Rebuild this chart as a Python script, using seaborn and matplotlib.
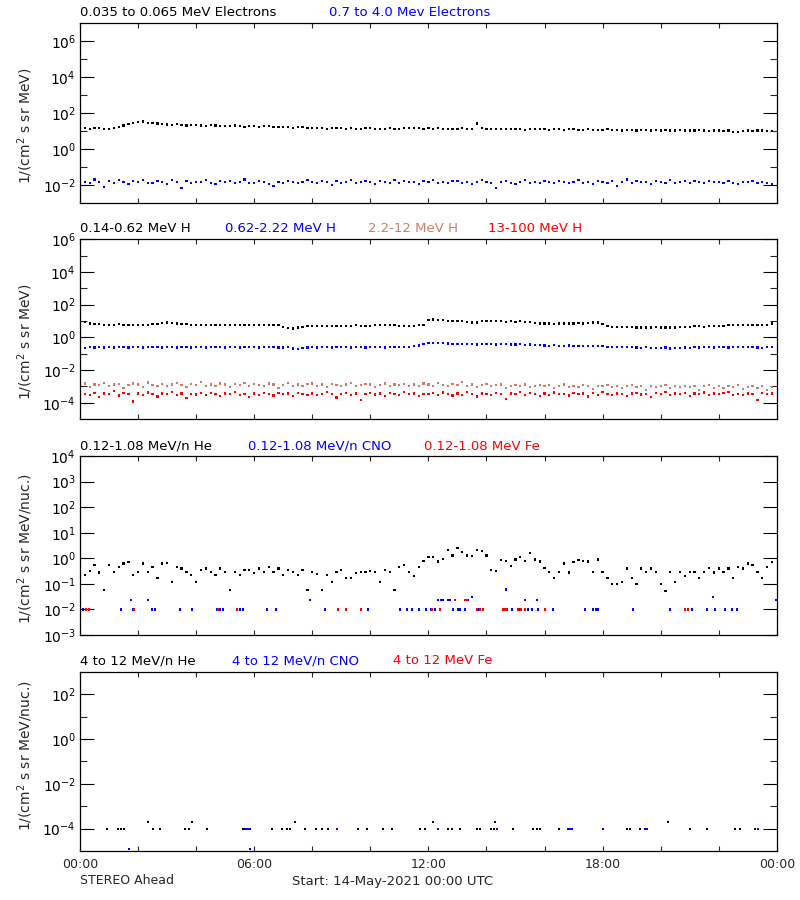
import numpy as np
import pandas as pd
import matplotlib
matplotlib.use('Agg')
import matplotlib.pyplot as plt
import seaborn as sns
from matplotlib.ticker import FixedLocator, NullFormatter

sns.set_theme(style='white')
plt.rcParams['font.family'] = ['DejaVu Sans']
plt.rcParams['mathtext.default'] = 'regular'

# --- data (10 min cadence, 14-May-2021) ---
# panel 1 : electrons
e_low = [17, 15, 14, 16, 15, 14,
         14, 15, 17, 21, 26, 30,
         33, 35, 30, 29, 27, 25,
         24, 23, 25, 22, 21, 23,
         22, 21, 20, 22, 21, 20,
         20, 19, 21, 19, 18, 19,
         19, 18, 19, 20, 18, 17,
         17, 18, 16, 17, 18, 16,
         16, 15, 16, 14, 15, 16,
         15, 14, 15, 14, 14, 15,
         15, 14, 13, 14, 15, 14,
         14, 15, 15, 16, 15, 14,
         15, 14, 15, 14, 13, 14,
         14, 15, 14, 13, 27, 15,
         14, 13, 14, 14, 13, 13,
         13, 14, 12, 13, 13, 14,
         13, 12, 13, 13, 12, 13,
         13, 12, 12, 13, 12, 12,
         12, 13, 12, 12, 11, 12,
         12, 11, 12, 12, 11, 12,
         11, 12, 11, 11, 12, 11,
         11, 11, 12, 11, 10, 11,
         11, 10, 11, 9.5, 9, 10,
         11, 10, 11, 11, 10, 10]
e_high = [0.014, 0.016, 0.013, 0.021, 0.015, 0.008,
          0.017, 0.013, 0.019, 0.016, 0.012, 0.018,
          0.015, 0.020, 0.014, 0.013, 0.017, 0.015,
          0.012, 0.019, 0.016, 0.007, 0.018, 0.013,
          0.016, 0.015, 0.020, 0.014, 0.012, 0.017,
          0.015, 0.018, 0.013, 0.016, 0.021, 0.014,
          0.013, 0.017, 0.015, 0.012, 0.009, 0.016,
          0.014, 0.018, 0.016, 0.013, 0.015, 0.020,
          0.016, 0.013, 0.017, 0.015, 0.010, 0.018,
          0.014, 0.016, 0.019, 0.013, 0.015, 0.017,
          0.016, 0.012, 0.018, 0.015, 0.014, 0.020,
          0.013, 0.017, 0.015, 0.016, 0.012, 0.018,
          0.015, 0.019, 0.014, 0.016, 0.013, 0.017,
          0.018, 0.014, 0.016, 0.012, 0.015, 0.019,
          0.016, 0.013, 0.007, 0.015, 0.017, 0.014,
          0.012, 0.016, 0.019, 0.014, 0.015, 0.013,
          0.017, 0.015, 0.013, 0.018, 0.016, 0.014,
          0.015, 0.019, 0.014, 0.016, 0.012, 0.017,
          0.016, 0.014, 0.018, 0.009, 0.015, 0.021,
          0.013, 0.017, 0.015, 0.016, 0.012, 0.018,
          0.015, 0.014, 0.019, 0.013, 0.016, 0.017,
          0.014, 0.018, 0.015, 0.013, 0.017, 0.015,
          0.016, 0.013, 0.018, 0.014, 0.012, 0.016,
          0.015, 0.017, 0.013, 0.016, 0.014, 0.012]

# panel 2 : protons
h_low = [9, 8.5, 7, 6.5, 6.5, 6,
         6, 6, 6.5, 6, 6, 6,
         6, 6, 6, 6.5, 6.5, 7.5,
         8, 7.5, 7, 6.5, 6.5, 6,
         6, 6, 6, 6, 6, 6,
         6, 5.5, 6, 6, 5.5, 6,
         6, 6, 5.5, 6, 6, 5.5,
         4.5, 3.8, 3.5, 4, 4.5, 5,
         5, 5, 5, 5, 5, 5,
         5, 5, 5, 5.5, 5, 5,
         5, 5.5, 5.5, 5.5, 5.5, 5.5,
         5, 5, 5, 5, 5.5, 6,
         12, 12.5, 12, 11, 10.5, 10,
         10, 9.5, 8.5, 8, 8, 10,
         10.5, 10, 9.5, 9.5, 9, 9.5,
         9, 9.5, 9, 8.5, 7.5, 7,
         7, 7, 6.5, 7, 7, 7,
         7, 7.5, 7, 7.5, 8, 8,
         6.5, 5, 4.5, 4.5, 4.5, 4.5,
         4.5, 4, 4, 4, 4, 4.5,
         4, 4, 4, 4, 4.5, 4.5,
         4.5, 5, 5, 4.5, 5, 5,
         5, 5, 5.5, 5.5, 5.5, 5.5,
         5.5, 5.5, 6, 5.5, 6, 7]
h_mid = [0.24, 0.23, 0.25, 0.24, 0.26, 0.24,
         0.25, 0.24, 0.26, 0.25, 0.24, 0.25,
         0.26, 0.24, 0.25, 0.25, 0.26, 0.24,
         0.25, 0.26, 0.24, 0.25, 0.25, 0.24,
         0.26, 0.25, 0.24, 0.25, 0.26, 0.25,
         0.24, 0.25, 0.26, 0.24, 0.25, 0.26,
         0.25, 0.24, 0.26, 0.25, 0.25, 0.24,
         0.24, 0.25, 0.21, 0.20, 0.23, 0.24,
         0.25, 0.24, 0.26, 0.25, 0.24, 0.25,
         0.26, 0.25, 0.24, 0.25, 0.26, 0.24,
         0.25, 0.26, 0.25, 0.24, 0.26, 0.25,
         0.26, 0.25, 0.27, 0.28, 0.32, 0.38,
         0.43, 0.45, 0.44, 0.43, 0.42, 0.40,
         0.40, 0.39, 0.41, 0.38, 0.37, 0.40,
         0.38, 0.39, 0.37, 0.38, 0.39, 0.37,
         0.36, 0.38, 0.35, 0.36, 0.34, 0.33,
         0.32, 0.31, 0.33, 0.30, 0.31, 0.32,
         0.30, 0.31, 0.29, 0.30, 0.29, 0.28,
         0.28, 0.27, 0.26, 0.27, 0.25, 0.26,
         0.25, 0.24, 0.23, 0.25, 0.22, 0.23,
         0.22, 0.24, 0.21, 0.23, 0.22, 0.24,
         0.23, 0.25, 0.24, 0.26, 0.25, 0.24,
         0.25, 0.26, 0.24, 0.25, 0.27, 0.25,
         0.26, 0.25, 0.24, 0.22, 0.26, 0.27]
h_hi = [0.0011, 0.0015, 0.0009, 0.0013, 0.0012, 0.0016,
        0.0010, 0.0013, 0.0014, 0.0008, 0.0012, 0.0015,
        0.0013, 0.0009, 0.0017, 0.0012, 0.0011, 0.0014,
        0.0010, 0.0013, 0.0016, 0.0012, 0.0009, 0.0014,
        0.0012, 0.0018, 0.0011, 0.0013, 0.0010, 0.0015,
        0.0013, 0.0009, 0.0014, 0.0012, 0.0016, 0.0011,
        0.0014, 0.0012, 0.0010, 0.0015, 0.0013, 0.0008,
        0.0012, 0.0016, 0.0011, 0.0013, 0.0010, 0.0014,
        0.0015, 0.0011, 0.0013, 0.0009, 0.0014, 0.0012,
        0.0010, 0.0013, 0.0016, 0.0011, 0.0012, 0.0014,
        0.0013, 0.0009, 0.0012, 0.0015, 0.0011, 0.0013,
        0.0012, 0.0014, 0.0010, 0.0013, 0.0011, 0.0015,
        0.0013, 0.0011, 0.0016, 0.0012, 0.0010, 0.0014,
        0.0012, 0.0019, 0.0011, 0.0013, 0.0009, 0.0012,
        0.0014, 0.0010, 0.0012, 0.0013, 0.0008, 0.0011,
        0.0012, 0.0010, 0.0013, 0.0009, 0.0011, 0.0012,
        0.0010, 0.0012, 0.0008, 0.0011, 0.0013, 0.0009,
        0.0011, 0.0009, 0.0012, 0.0010, 0.0007, 0.0011,
        0.0010, 0.0012, 0.0009, 0.0011, 0.0008, 0.0010,
        0.0012, 0.0009, 0.0010, 0.0006, 0.0011, 0.0009,
        0.0010, 0.0012, 0.0008, 0.0010, 0.0009, 0.0011,
        0.0009, 0.0011, 0.0006, 0.0010, 0.0012, 0.0008,
        0.0010, 0.0008, 0.0011, 0.0009, 0.0012, 0.0007,
        0.0009, 0.0011, 0.0008, 0.0010, 0.0006, 0.0009]
h_top = [0.00045, 0.00035, 0.00030, 0.00040, 0.00022, 0.00036,
         0.00033, 0.00050, 0.00028, 0.00038, 0.00034, 0.00012,
         0.00036, 0.00030, 0.00042, 0.00033, 0.00024, 0.00037,
         0.00034, 0.00046, 0.00031, 0.00036, 0.00020, 0.00035,
         0.00032, 0.00038, 0.00029, 0.00040, 0.00034, 0.00026,
         0.00037, 0.00033, 0.00045, 0.00030, 0.00035, 0.00023,
         0.00036, 0.00031, 0.00041, 0.00034, 0.00028, 0.00038,
         0.00033, 0.00036, 0.00025, 0.00040, 0.00034, 0.00031,
         0.00037, 0.00029, 0.00035, 0.00043, 0.00033, 0.00021,
         0.00035, 0.00038, 0.00030, 0.00036, 0.00014, 0.00034,
         0.00040, 0.00032, 0.00036, 0.00027, 0.00038, 0.00033,
         0.00031, 0.00046, 0.00034, 0.00036, 0.00025, 0.00035,
         0.00033, 0.00038, 0.00030, 0.00042, 0.00034, 0.00028,
         0.00036, 0.00031, 0.00044, 0.00033, 0.00024, 0.00037,
         0.00035, 0.00030, 0.00040, 0.00034, 0.00016, 0.00036,
         0.00033, 0.00045, 0.00031, 0.00038, 0.00034, 0.00026,
         0.00037, 0.00030, 0.00042, 0.00035, 0.00033, 0.00028,
         0.00040, 0.00034, 0.00036, 0.00024, 0.00038, 0.00031,
         0.00044, 0.00035, 0.00030, 0.00037, 0.00033, 0.00027,
         0.00036, 0.00041, 0.00032, 0.00035, 0.00022, 0.00038,
         0.00034, 0.00045, 0.00030, 0.00036, 0.00033, 0.00040,
         0.00026, 0.00037, 0.00034, 0.00042, 0.00031, 0.00036,
         0.00033, 0.00038, 0.00044, 0.00029, 0.00035, 0.00030,
         0.00037, 0.00034, 0.00015, 0.00041, 0.00033, 0.00036]

# panel 3 : 0.12-1.08 MeV/n ions
he_low = [0.10, 0.22, 0.32, 0.55, 0.28, 0.057,
          0.55, 0.30, 0.45, 0.63, 0.70, 0.22,
          0.30, 0.63, 0.30, 0.45, 0.17, 0.63,
          0.65, 0.12, 0.45, 0.40, 0.30, 0.22,
          0.12, 0.35, 0.40, 0.30, 0.22, 0.40,
          0.30, 0.057, 0.30, 0.22, 0.35, 0.35,
          0.26, 0.40, 0.30, 0.45, 0.30, 0.40,
          0.22, 0.35, 0.30, 0.22, 0.35, 0.057,
          0.30, 0.25, 0.057, 0.22, 0.12, 0.30,
          0.35, 0.17, 0.17, 0.26, 0.30, 0.30,
          0.32, 0.30, 0.12, 0.35, 0.30, 0.057,
          0.45, 0.55, 0.30, 0.20, 0.45, 0.80,
          1.15, 1.10, 0.75, 0.95, 2.10, 1.30,
          2.60, 1.80, 1.30, 1.20, 2.10, 1.90,
          1.30, 0.35, 0.32, 0.86, 0.80, 0.50,
          0.90, 1.15, 0.80, 1.57, 0.90, 0.75,
          0.42, 0.30, 0.17, 0.30, 0.63, 0.28,
          0.70, 0.85, 0.80, 0.75, 0.30, 0.90,
          0.30, 0.17, 0.10, 0.10, 0.12, 0.40,
          0.17, 0.10, 0.40, 0.30, 0.40, 0.30,
          0.10, 0.052, 0.30, 0.12, 0.30, 0.20,
          0.30, 0.30, 0.17, 0.30, 0.42, 0.28,
          0.40, 0.30, 0.40, 0.17, 0.45, 0.40,
          0.63, 0.55, 0.30, 0.17, 0.45, 0.70]
cno_low_t = [0.10, 0.21, 1.41, 1.76, 1.83, 2.34, 2.48, 2.58, 3.44, 3.86, 4.72, 4.82,
             4.92, 5.41, 5.51, 5.61, 6.44, 6.75, 7.92, 8.44, 9.92, 11.02, 11.26,
             11.43, 11.67, 11.91, 12.09, 12.22, 12.33, 12.43, 12.50, 12.67, 12.74,
             12.84, 13.02, 13.09, 13.26, 13.26, 13.36, 13.50, 13.74, 14.67, 14.88,
             15.12, 15.32, 15.43, 15.56, 15.74, 15.77, 16.01, 16.29, 17.39, 17.67,
             17.77, 17.84, 19.04, 20.32, 21.07, 21.59, 21.80, 21.87, 22.21, 22.45,
             22.62, 23.97]
cno_low = [0.01, 0.01, 0.01, 0.023, 0.01, 0.023, 0.01, 0.01, 0.01, 0.01, 0.01, 0.01,
           0.01, 0.01, 0.01, 0.01, 0.01, 0.01, 0.023, 0.01, 0.01, 0.01, 0.01,
           0.01, 0.01, 0.01, 0.01, 0.01, 0.023, 0.023, 0.023, 0.023, 0.023,
           0.01, 0.01, 0.01, 0.01, 0.023, 0.023, 0.03, 0.01, 0.06, 0.01,
           0.01, 0.023, 0.01, 0.01, 0.023, 0.01, 0.01, 0.01, 0.01, 0.01,
           0.01, 0.01, 0.01, 0.01, 0.01, 0.01, 0.03, 0.01, 0.01, 0.01,
           0.01, 0.023]
fe_low_t = [0.21, 0.31, 1.86, 4.75, 5.41, 8.88, 9.16, 9.68, 12.12, 12.40, 12.91,
            13.26, 13.33, 13.67, 13.77, 13.88, 14.57, 14.64, 14.70, 15.08, 15.19,
            15.32, 16.01, 20.83, 20.94]
fe_low = [0.01, 0.01, 0.01, 0.01, 0.01, 0.01, 0.01, 0.01, 0.01, 0.01, 0.023,
          0.023, 0.023, 0.01, 0.01, 0.01, 0.01, 0.01, 0.01, 0.01, 0.01,
          0.01, 0.01, 0.01, 0.01]

# panel 4 : 4-12 MeV/n ions
he_high_t = [0.93, 1.31, 1.41, 1.52, 2.34, 2.51, 2.75, 3.62, 3.75, 3.86, 4.37, 5.61,
             5.85, 6.61, 6.96, 7.13, 7.23, 7.40, 7.75, 8.13, 8.33, 8.54, 9.57, 9.88,
             10.43, 10.74, 11.71, 11.88, 12.16, 12.67, 12.81, 13.09, 13.67, 13.77,
             14.15, 14.26, 14.29, 14.91, 15.60, 15.74, 15.84, 16.49, 18.84, 18.94,
             19.28, 20.25, 21.00, 21.59, 22.56, 22.73, 23.24]
he_high = [1e-4, 1e-4, 1e-4, 1e-4, 2e-4, 1e-4, 1e-4, 1e-4, 1e-4, 2e-4, 1e-4, 1e-4,
           1e-4, 1e-4, 1e-4, 1e-4, 1e-4, 2e-4, 1e-4, 1e-4, 1e-4, 1e-4, 1e-4, 1e-4,
           1e-4, 1e-4, 1e-4, 1e-4, 2e-4, 1e-4, 1e-4, 1e-4, 1e-4, 1e-4,
           1e-4, 1e-4, 2e-4, 1e-4, 1e-4, 1e-4, 1e-4, 1e-4, 1e-4, 1e-4,
           1e-4, 2e-4, 1e-4, 1e-4, 1e-4, 1e-4, 1e-4]
cno_high_t = [1.69, 5.68, 5.75, 5.82, 5.85, 8.85, 12.33, 14.36, 16.80, 16.87, 16.94,
              18.01, 19.46, 19.52, 23.35]
cno_high = [1.25e-5, 1e-4, 1e-4, 1e-4, 1.25e-5, 1e-4, 1e-4, 1e-4, 1e-4, 1e-4, 1e-4,
            1e-4, 1e-4, 1e-4, 1e-4]

time_10min = np.arange(len(e_low)) / 6.0

BLUE = '#0000FF'
RED = '#FF0000'
SIENNA = '#C8806A'


def pow10(e):
    return r'$\mathregular{10^{%d}}$' % e


def style_axis(ax, ylim, major, minor, show_x=False):
    ax.set_yscale('log')
    ax.set_xlim(0, 24)
    ax.set_ylim(*ylim)
    ax.yaxis.set_major_locator(FixedLocator([10.0 ** e for e in major]))
    ax.set_yticklabels([pow10(e) for e in major])
    ax.yaxis.set_minor_locator(FixedLocator([10.0 ** e for e in minor]))
    ax.yaxis.set_minor_formatter(NullFormatter())
    ax.xaxis.set_major_locator(FixedLocator([0, 6, 12, 18, 24]))
    ax.xaxis.set_minor_locator(FixedLocator([2, 4, 8, 10, 14, 16, 20, 22]))
    if show_x:
        ax.set_xticklabels(['00:00', '06:00', '12:00', '18:00', '00:00'])
    else:
        ax.set_xticklabels([])
    ax.tick_params(axis='y', which='major', direction='in', length=10, width=0.8,
                   left=True, right=True, labelsize=10, pad=3, colors='black')
    ax.tick_params(axis='y', which='minor', direction='in', length=5, width=0.8,
                   left=True, right=True)
    ax.tick_params(axis='x', which='both', direction='in', length=3.6, width=0.8,
                   top=True, bottom=True, labelsize=9, pad=5)
    for sp in ax.spines.values():
        sp.set_color('black')
        sp.set_linewidth(0.9)
    ax.set_xlabel('')


def dots(ax, t, v, color):
    df = pd.DataFrame({'t': t, 'v': v})
    sns.scatterplot(data=df, x='t', y='v', ax=ax, color=color, marker='s',
                    s=2.6, linewidth=0, edgecolor='none', legend=False)


fig = plt.figure(figsize=(8, 9), dpi=100)
L, W = 0.1, 0.871

# panel 1
ax1 = fig.add_axes([L, 0.7741, W, 0.2])
dots(ax1, time_10min, e_low, 'black')
dots(ax1, time_10min, e_high, BLUE)
style_axis(ax1, (1e-3, 1e7), [-2, 0, 2, 4, 6], [-1, 1, 3, 5])
ax1.set_ylabel('1/(cm$^2$ s sr MeV)', fontsize=10)
ax1.yaxis.set_label_coords(-0.065, 0.43)

# panel 2
ax2 = fig.add_axes([L, 0.5344, W, 0.1997])
dots(ax2, time_10min, h_low, 'black')
dots(ax2, time_10min, h_mid, BLUE)
dots(ax2, time_10min, h_hi, SIENNA)
dots(ax2, time_10min, h_top, RED)
style_axis(ax2, (1e-5, 1e6), [-4, -2, 0, 2, 4, 6], [-3, -1, 1, 3, 5])
ax2.set_ylabel('1/(cm$^2$ s sr MeV)', fontsize=10)
ax2.yaxis.set_label_coords(-0.065, 0.43)

# panel 3
ax3 = fig.add_axes([L, 0.2944, W, 0.1989])
dots(ax3, time_10min, he_low, 'black')
dots(ax3, cno_low_t, cno_low, BLUE)
dots(ax3, fe_low_t, fe_low, RED)
style_axis(ax3, (1e-3, 1e4), [-3, -2, -1, 0, 1, 2, 3, 4], [])
ax3.set_ylabel('1/(cm$^2$ s sr MeV/nuc.)', fontsize=10)
ax3.yaxis.set_label_coords(-0.065, 0.48)

# panel 4
ax4 = fig.add_axes([L, 0.0544, W, 0.1992])
dots(ax4, he_high_t, he_high, 'black')
dots(ax4, cno_high_t, cno_high, BLUE)
style_axis(ax4, (1e-5, 1e3), [-4, -2, 0, 2], [-3, -1, 1], show_x=True)
ax4.set_ylabel('1/(cm$^2$ s sr MeV/nuc.)', fontsize=10)
ax4.yaxis.set_label_coords(-0.065, 0.53)

# titles (coloured legends above each panel)
titles = [
    (13, [(80, '0.035 to 0.065 MeV Electrons', 'black'), (329, '0.7 to 4.0 Mev Electrons', BLUE)]),
    (229, [(80, '0.14-0.62 MeV H', 'black'), (225, '0.62-2.22 MeV H', BLUE),
           (368, '2.2-12 MeV H', SIENNA), (488, '13-100 MeV H', RED)]),
    (446, [(80, '0.12-1.08 MeV/n He', 'black'), (248, '0.12-1.08 MeV/n CNO', BLUE),
           (424, '0.12-1.08 MeV Fe', RED)]),
    (661, [(80, '4 to 12 MeV/n He', 'black'), (232, '4 to 12 MeV/n CNO', BLUE),
           (393, '4 to 12 MeV Fe', RED)]),
]
for ypx, items in titles:
    for xpx, txt, col in items:
        fig.text(xpx / 800, 1 - ypx / 900, txt, color=col, fontsize=9.5,
                 ha='left', va='center')

fig.text(80 / 800, 1 - 881 / 900, 'STEREO Ahead', fontsize=9, ha='left', va='center')
fig.text(292 / 800, 1 - 881 / 900, 'Start: 14-May-2021 00:00 UTC', fontsize=9.5,
         ha='left', va='center')

fig.savefig('out.png', dpi=100, facecolor='white')
